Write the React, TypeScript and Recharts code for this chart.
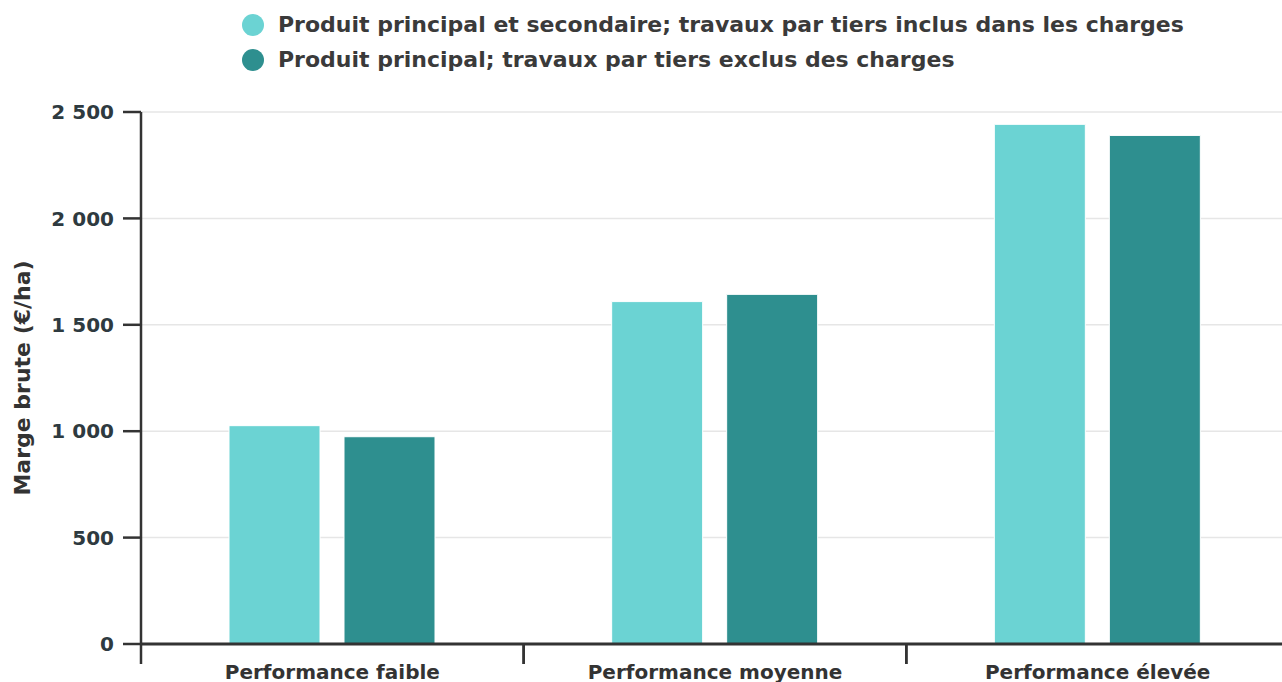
import React from "react";
import {
  BarChart,
  Bar,
  XAxis,
  YAxis,
  CartesianGrid,
  Legend,
} from "recharts";

const categories = ["Performance faible", "Performance moyenne", "Performance élevée"];
const inclus = [1026, 1609, 2442];
const exclus = [974, 1643, 2390];
const yTicks = [0, 500, 1000, 1500, 2000, 2500];

const SERIES_A = "Produit principal et secondaire; travaux par tiers inclus dans les charges";
const SERIES_B = "Produit principal; travaux par tiers exclus des charges";

const data = categories.map((c, i) => ({ cat: c, a: inclus[i], b: exclus[i] }));

const FONT = "'DejaVu Sans', sans-serif";
const TEXT = "#333333";

const fmt = (v: number) => (v >= 1000 ? `${Math.floor(v / 1000)} ${String(v % 1000).padStart(3, "0")}` : String(v));

function CatTick(props: any) {
  const { x, y, payload } = props;
  const half = payload && payload.offset ? payload.offset : 191.25;
  return (
    <g>
      <line x1={x - half} x2={x - half} y1={y} y2={y + 20} stroke="#333" strokeWidth={2.5} />
      <line x1={x + half} x2={x + half} y1={y} y2={y + 20} stroke="#333" strokeWidth={2.5} />
      <text
        x={x}
        y={y + 35}
        textAnchor="middle"
        fontFamily={FONT}
        fontWeight="bold"
        fontSize={20}
        fill={TEXT}
      >
        {payload.value}
      </text>
    </g>
  );
}

function LegendBox(props: any) {
  const items = props.payload || [];
  return (
    <div style={{ fontFamily: FONT, fontWeight: "bold", fontSize: 22, color: "#3a3a3a" }}>
      {items.map((it: any) => (
        <div key={it.value} style={{ display: "flex", alignItems: "center", height: 35 }}>
          <span
            style={{
              display: "inline-block",
              width: 22,
              height: 22,
              borderRadius: 11,
              background: it.color,
              marginRight: 14,
            }}
          />
          <span>{it.value}</span>
        </div>
      ))}
    </div>
  );
}

export default function App() {
  return (
    <div style={{ position: "absolute", left: 0, top: 0, width: 1282, height: 682, overflow: "hidden", background: "#fff" }}>
      <BarChart
        width={1289}
        height={682}
        data={data}
        margin={{ top: 42, right: 0, left: 0, bottom: 0 }}
        barSize={91}
        barGap={24}
      >
        <CartesianGrid vertical={false} stroke="#e6e6e6" strokeWidth={1.5} />
        <XAxis
          dataKey="cat"
          height={38}
          tickLine={false}
          tickSize={0}
          tickMargin={0}
          axisLine={{ stroke: "#333", strokeWidth: 3 }}
          tick={<CatTick />}
          interval={0}
        />
        <YAxis
          width={141}
          domain={[0, 2500]}
          ticks={yTicks}
          tickFormatter={fmt}
          tickSize={18}
          tickMargin={9}
          axisLine={{ stroke: "#333", strokeWidth: 2.5 }}
          tickLine={{ stroke: "#333", strokeWidth: 2.5 }}
          tick={{ fontFamily: FONT, fontWeight: "bold", fontSize: 20, fill: "#2e3a40" }}
          label={{
            value: "Marge brute (€/ha)",
            angle: -90,
            position: "insideLeft",
            offset: 22,
            style: { textAnchor: "middle", fontFamily: FONT, fontWeight: "bold", fontSize: 22, fill: TEXT },
          }}
        />
        <Legend
          verticalAlign="top"
          content={<LegendBox />}
          wrapperStyle={{ position: "absolute", top: 7, left: 242, width: 1000 }}
        />
        <Bar dataKey="a" name={SERIES_A} fill="#6bd3d3" stroke="#ffffff" strokeWidth={1} isAnimationActive={false} />
        <Bar dataKey="b" name={SERIES_B} fill="#2e8f8f" stroke="#ffffff" strokeWidth={1} isAnimationActive={false} />
      </BarChart>
    </div>
  );
}
